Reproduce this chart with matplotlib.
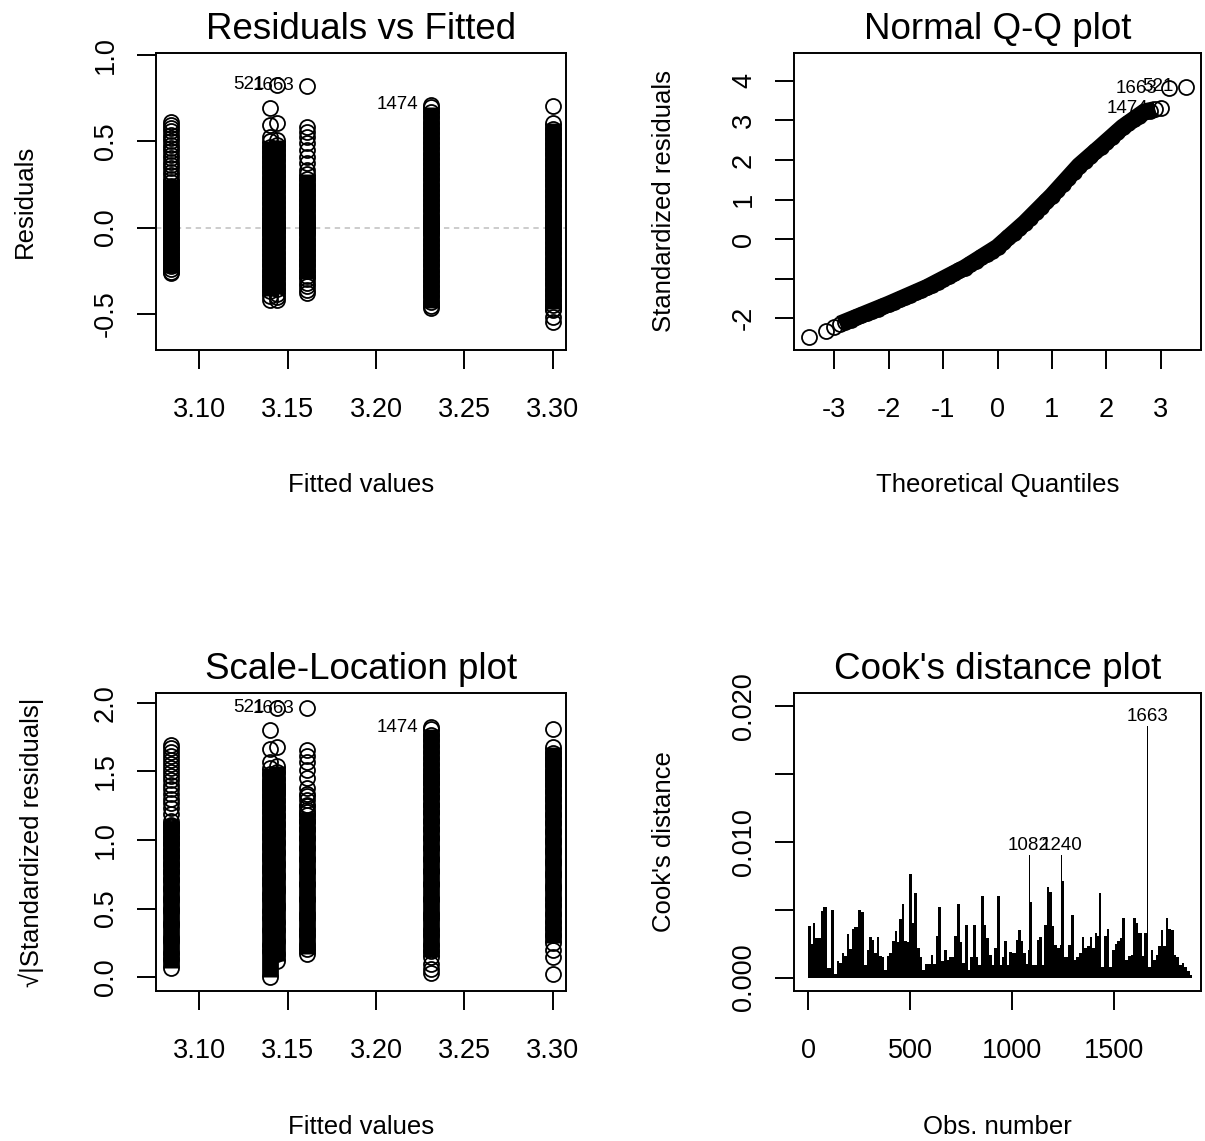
import numpy as np
import matplotlib
matplotlib.use("Agg")
import matplotlib.pyplot as plt
from matplotlib.ticker import FixedLocator, FixedFormatter

plt.rcParams["font.family"] = ["Liberation Sans", "DejaVu Sans"]

W, H, DPI = 1205, 1141, 100

# ---------------------------------------------------------------- data
# fitted values of the model (one column of points per level)
fitted_levels = [3.084, 3.140, 3.144, 3.161, 3.231, 3.300]

# residuals at each fitted level: the heavily overplotted core and the
# separately visible points
res_core = [
    [0.28, 0.262, 0.243, 0.224, 0.205, 0.186, 0.167, 0.148, 0.129, 0.110,
     0.091, 0.072, 0.053, 0.034, 0.018, 0.007, 0.001, -0.004, -0.015, -0.031,
     -0.050, -0.069, -0.088, -0.107, -0.126, -0.145, -0.164, -0.183, -0.202,
     -0.221, -0.240, -0.256, -0.266],
    [0.50, 0.47, 0.44, 0.41, 0.38, 0.35, 0.32, 0.29, 0.26, 0.23, 0.20, 0.17,
     0.14, 0.11, 0.08, 0.05, 0.025, 0.008, 0.0, -0.012, -0.04, -0.07, -0.10,
     -0.13, -0.16, -0.19, -0.22, -0.25, -0.28, -0.31, -0.34, -0.37, -0.40],
    [0.51, 0.48, 0.45, 0.42, 0.39, 0.36, 0.33, 0.30, 0.27, 0.24, 0.21, 0.18,
     0.15, 0.12, 0.09, 0.06, 0.035, 0.015, 0.003, -0.006, -0.025, -0.055,
     -0.085, -0.115, -0.145, -0.175, -0.205, -0.235, -0.265, -0.295, -0.325,
     -0.355, -0.385],
    [0.31, 0.28, 0.25, 0.22, 0.19, 0.16, 0.13, 0.10, 0.07, 0.045, 0.025,
     0.012, 0.006, -0.009, -0.02, -0.04, -0.07, -0.10, -0.13, -0.16, -0.19,
     -0.22, -0.25, -0.28, -0.30],
    [0.703, 0.67, 0.64, 0.61, 0.58, 0.55, 0.52, 0.49, 0.46, 0.43, 0.40, 0.37,
     0.34, 0.31, 0.28, 0.25, 0.22, 0.19, 0.16, 0.13, 0.10, 0.07, 0.045, 0.025,
     0.012, 0.0048, -0.008, -0.02, -0.04, -0.07, -0.10, -0.13, -0.16, -0.19,
     -0.22, -0.25, -0.28, -0.31, -0.34, -0.37, -0.40, -0.43, -0.455, -0.469],
    [0.605, 0.575, 0.545, 0.515, 0.485, 0.455, 0.425, 0.395, 0.365, 0.335,
     0.305, 0.275, 0.245, 0.215, 0.185, 0.155, 0.125, 0.095, 0.07, 0.045,
     0.028, 0.0134, -0.02, -0.035, -0.06, -0.09, -0.12, -0.15, -0.18, -0.21,
     -0.24, -0.27, -0.30, -0.33, -0.36, -0.39, -0.42, -0.45, -0.47],
]
res_single = [
    [0.616, 0.598, 0.578, 0.559, 0.539, 0.520, 0.500, 0.481, 0.461, 0.442,
     0.422, 0.403, 0.383, 0.364, 0.345, 0.325, 0.306],
    [0.696, 0.597, 0.529, -0.42],
    [0.83, 0.607, -0.405, -0.418],
    [0.825, 0.587, 0.558, 0.529, 0.49, 0.452, 0.41, 0.374, 0.335, -0.32,
     -0.34, -0.36, -0.382],
    [0.712, 0.0021, 0.00077, -0.0002],
    [0.706, 0.0086, 0.0048, -0.0001, -0.479, -0.517, -0.547],
]
resid_scale = 0.215

# the three largest residuals, identified by observation name
id_names = ["521", "1663", "1474"]
id_fitted = [3.144, 3.161, 3.231]
id_resid = [0.83, 0.825, 0.712]

# normal Q-Q plot: theoretical quantiles vs standardized residuals
qq_theor_core = [-2.9, -2.8, -2.7, -2.6, -2.5, -2.4, -2.3, -2.2, -2.1, -2.0,
                 -1.9, -1.8, -1.7, -1.6, -1.5, -1.4, -1.3, -1.2, -1.1, -1.0,
                 -0.9, -0.8, -0.7, -0.6, -0.5, -0.4, -0.3, -0.2, -0.1, 0.0,
                 0.1, 0.2, 0.3, 0.4, 0.5, 0.6, 0.7, 0.8, 0.9, 1.0, 1.1, 1.2,
                 1.3, 1.4, 1.5, 1.6, 1.7, 1.8, 1.9, 2.0, 2.1, 2.2, 2.3, 2.4,
                 2.5, 2.6, 2.7, 2.8, 2.9]
qq_std_core = [-2.144, -2.088, -2.032, -1.976, -1.92, -1.864, -1.808, -1.752,
               -1.696, -1.64, -1.58, -1.52, -1.46, -1.40, -1.34, -1.28, -1.22,
               -1.149, -1.077, -1.006, -0.934, -0.863, -0.791, -0.72, -0.633,
               -0.547, -0.46, -0.373, -0.287, -0.20, -0.078, 0.044, 0.166,
               0.288, 0.41, 0.548, 0.686, 0.824, 0.962, 1.10, 1.252, 1.404,
               1.556, 1.708, 1.86, 1.98, 2.10, 2.22, 2.34, 2.463, 2.585,
               2.708, 2.83, 2.928, 3.025, 3.123, 3.22, 3.25, 3.28]
qq_theor_single = [-3.46, -3.16, -3.00, 3.00, 3.16, 3.46]
qq_std_single = [-2.48, -2.31, -2.21, 3.31, 3.82, 3.85]
qq_id_names = ["1474", "1663", "521"]
qq_id_theor = [3.00, 3.16, 3.46]
qq_id_std = [3.31, 3.82, 3.85]

# Cook's distance by observation number (piecewise over index ranges)
cook_edges = [1, 12, 22, 34, 63, 75, 91, 112, 128, 140, 153, 164, 177, 189,
              200, 213, 226, 243, 259, 275, 287, 298, 311, 324, 337, 349,
              360, 373, 385, 398, 409, 426, 434, 445, 458, 470, 483, 494,
              507, 520, 535, 548, 559, 573, 600, 613, 625, 638, 651, 666,
              679, 692, 716, 729, 742, 755, 768, 781, 795, 808, 821, 834,
              847, 860, 873, 886, 899, 912, 925, 940, 948, 961, 974, 984,
              997, 1017, 1030, 1043, 1054, 1066, 1077, 1080, 1085, 1098,
              1119, 1131, 1144, 1155, 1168, 1180, 1193, 1206, 1219, 1232,
              1238, 1243, 1255, 1274, 1288, 1301, 1314, 1327, 1340, 1353,
              1366, 1379, 1392, 1405, 1413, 1425, 1434, 1451, 1462, 1474,
              1490, 1503, 1514, 1527, 1539, 1552, 1568, 1581, 1593, 1604,
              1617, 1634, 1643, 1661, 1666, 1679, 1691, 1702, 1715, 1728,
              1740, 1751, 1764, 1777, 1790, 1803, 1816, 1829, 1842, 1856,
              1869, 1880]
cook_values = [0.0038, 0.0025, 0.0040, 0.0029, 0.0049, 0.0052, 0.0007,
               0.0050, 0.0003, 0.0012, 0.0011, 0.0018, 0.0016, 0.0032,
               0.0021, 0.0036, 0.0037, 0.0050, 0.0048, 0.0009, 0.0020,
               0.0030, 0.0028, 0.0018, 0.0030, 0.0016, 0.0015, 0.0006,
               0.0016, 0.0018, 0.0027, 0.0034, 0.0026, 0.0043, 0.0054,
               0.0027, 0.0026, 0.0076, 0.0040, 0.0062, 0.0022, 0.0015,
               0.0006, 0.0010, 0.0017, 0.0010, 0.0031, 0.0052, 0.0012,
               0.0020, 0.0013, 0.0015, 0.0031, 0.0054, 0.0026, 0.0011,
               0.0039, 0.0006, 0.0015, 0.0039, 0.0015, 0.0009, 0.0060,
               0.0039, 0.0029, 0.0017, 0.0009, 0.0022, 0.0060, 0.0009,
               0.0015, 0.0027, 0.0009, 0.0019, 0.0018, 0.0028, 0.0035,
               0.0027, 0.0018, 0.0010, 0.0020, 0.0090, 0.0056, 0.0009,
               0.0028, 0.0030, 0.0009, 0.0039, 0.0067, 0.0063, 0.0038,
               0.0024, 0.0022, 0.0024, 0.0090, 0.0071, 0.0015, 0.0024,
               0.0046, 0.0013, 0.0015, 0.0018, 0.0030, 0.0022, 0.0023,
               0.0030, 0.0022, 0.0033, 0.0031, 0.0062, 0.0008, 0.0031,
               0.0036, 0.0008, 0.0020, 0.0025, 0.0027, 0.0029, 0.0044,
               0.0013, 0.0016, 0.0017, 0.0044, 0.0040, 0.0033, 0.0016,
               0.0033, 0.0185, 0.0008, 0.0020, 0.0013, 0.0017, 0.0023,
               0.0035, 0.0023, 0.0044, 0.0036, 0.0035, 0.0017, 0.0015,
               0.0009, 0.0011, 0.0008, 0.0005, 0.0002]
cook_id_obs = [1082, 1240, 1663]
cook_id_names = ["1082", "1240", "1663"]

# ---------------------------------------------------------------- style
PX = 72.0 / DPI                    # points per pixel
RING_D = 15 * PX                   # circle size
RING_W = 1.8 * PX                  # circle stroke
CORE_W = 16.8 * PX                 # width of an overplotted run of circles
TICK_FS, LAB_FS, MAIN_FS, ID_FS = 19.5, 18.5, 26.5, 13.5

fig = plt.figure(figsize=(W / DPI, H / DPI), dpi=DPI)


def panel(left, top, right, bottom):
    ax = fig.add_axes([left / W, 1 - bottom / H, (right - left) / W,
                       (bottom - top) / H])
    for s in ax.spines.values():
        s.set_linewidth(1.4)
    ax.tick_params(direction="out", length=19 * PX, width=1.4,
                   labelsize=TICK_FS)
    ax.tick_params(axis="x", pad=20)
    ax.tick_params(axis="y", pad=13, labelrotation=90)
    return ax


def finish(ax, title, xlabel, ylabel, ylab_x):
    ax.set_title(title, fontsize=MAIN_FS, y=1.0455, pad=0, va="baseline")
    ax.set_xlabel(xlabel, fontsize=LAB_FS)
    ax.set_ylabel(ylabel, fontsize=LAB_FS)
    ax.xaxis.set_label_coords(0.5, -0.455)
    ax.xaxis.label.set_va("center")
    ax.yaxis.set_label_coords(ylab_x, 0.5)
    ax.yaxis.label.set_va("center")
    ax.yaxis.label.set_ha("center")
    for t in ax.get_yticklabels():
        t.set_va("center")


def rings(ax, x, y):
    ax.plot(x, y, "o", ms=RING_D, mfc="none", mec="black", mew=RING_W,
            zorder=3)


def column(ax, xval, core, single, f):
    c = np.sort(f(np.asarray(core)))
    s = f(np.asarray(single))
    ax.plot(np.full(c.size, xval), c, color="black", lw=CORE_W,
            solid_capstyle="butt", zorder=2)
    rings(ax, np.full(c.size, xval), c)
    rings(ax, np.full(s.size, xval), s)


def id_left(ax, names, xs, ys):
    for n, x, y in zip(names, xs, ys):
        ax.annotate(n, (x, y), xytext=(-9, 0), textcoords="offset points",
                    ha="right", va="center", fontsize=ID_FS,
                    annotation_clip=False, zorder=4)


fit_ticks = [3.10, 3.15, 3.20, 3.25, 3.30]
fit_tick_labels = ["3.10", "3.15", "3.20", "3.25", "3.30"]
fit_lims = (3.0756, 3.3075)

# ---- Residuals vs Fitted
ax1 = panel(156, 53, 566, 350)
ax1.axhline(0, color="#bebebe", lw=1.1, ls=(0, (3.5, 3)), zorder=1)
for xv, core, single in zip(fitted_levels, res_core, res_single):
    column(ax1, xv, core, single, lambda r: r)
id_left(ax1, id_names, id_fitted, id_resid)
ax1.set_xlim(*fit_lims)
ax1.set_ylim(-0.711, 1.014)
ax1.xaxis.set_major_locator(FixedLocator(fit_ticks))
ax1.xaxis.set_major_formatter(FixedFormatter(fit_tick_labels))
ax1.yaxis.set_major_locator(FixedLocator([-0.5, 0.0, 0.5, 1.0]))
ax1.yaxis.set_major_formatter(FixedFormatter(["-0.5", "0.0", "0.5", "1.0"]))
finish(ax1, "Residuals vs Fitted", "Fitted values", "Residuals", -0.3195)

# ---- Normal Q-Q
ax2 = panel(794, 53, 1201, 350)
ax2.plot(qq_theor_core, qq_std_core, color="black", lw=CORE_W,
         solid_capstyle="butt", solid_joinstyle="round", zorder=2)
rings(ax2, qq_theor_core, qq_std_core)
rings(ax2, qq_theor_single, qq_std_single)
id_left(ax2, qq_id_names, qq_id_theor, qq_id_std)
ax2.set_xlim(-3.74, 3.74)
ax2.set_ylim(-2.80, 4.705)
ax2.xaxis.set_major_locator(FixedLocator([-3, -2, -1, 0, 1, 2, 3]))
ax2.xaxis.set_major_formatter(FixedFormatter(["-3", "-2", "-1", "0", "1", "2", "3"]))
ax2.yaxis.set_major_locator(FixedLocator([-2, -1, 0, 1, 2, 3, 4]))
ax2.yaxis.set_major_formatter(FixedFormatter(["-2", "", "0", "1", "2", "3", "4"]))
finish(ax2, "Normal Q-Q plot", "Theoretical Quantiles",
       "Standardized residuals", -0.3194)

# ---- Scale-Location
ax3 = panel(156, 693, 566, 991)
sl = lambda r: np.sqrt(np.abs(r) / resid_scale)
for xv, core, single in zip(fitted_levels, res_core, res_single):
    column(ax3, xv, core, single, sl)
id_left(ax3, id_names, id_fitted, sl(np.asarray(id_resid)))
ax3.set_xlim(*fit_lims)
ax3.set_ylim(-0.0998, 2.0707)
ax3.xaxis.set_major_locator(FixedLocator(fit_ticks))
ax3.xaxis.set_major_formatter(FixedFormatter(fit_tick_labels))
ax3.yaxis.set_major_locator(FixedLocator([0.0, 0.5, 1.0, 1.5, 2.0]))
ax3.yaxis.set_major_formatter(FixedFormatter(["0.0", "0.5", "1.0", "1.5", "2.0"]))
finish(ax3, "Scale-Location plot", "Fitted values",
       "\u221a|Standardized residuals|", -0.305)

# ---- Cook's distance
ax4 = panel(794, 693, 1201, 991)
ax4.stairs(cook_values, cook_edges, fill=True, color="black", baseline=0)
for ob, name in zip(cook_id_obs, cook_id_names):
    k = np.searchsorted(cook_edges, ob, side="right") - 1
    ax4.annotate(name, (ob, cook_values[k]), xytext=(0, 1),
                 textcoords="offset points", ha="center", va="bottom",
                 fontsize=ID_FS, annotation_clip=False)
ax4.set_xlim(-69, 1924)
ax4.set_ylim(-0.00098, 0.02093)
ax4.xaxis.set_major_locator(FixedLocator([0, 500, 1000, 1500]))
ax4.xaxis.set_major_formatter(FixedFormatter(["0", "500", "1000", "1500"]))
ax4.yaxis.set_major_locator(FixedLocator([0.0, 0.005, 0.010, 0.015, 0.020]))
ax4.yaxis.set_major_formatter(FixedFormatter(["0.000", "", "0.010", "", "0.020"]))
finish(ax4, "Cook's distance plot", "Obs. number", "Cook's distance", -0.3194)

fig.savefig("out.png", dpi=DPI)
